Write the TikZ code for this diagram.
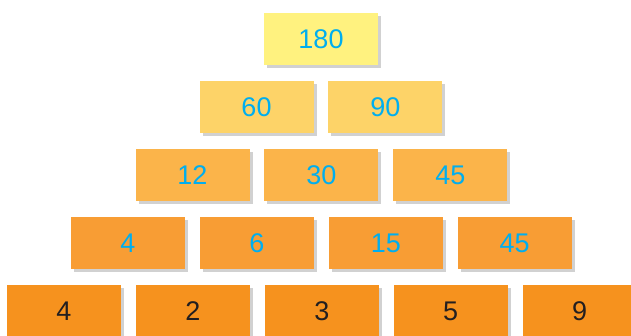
\documentclass[tikz,border=0pt]{standalone}
\usepackage{fontspec}
\setmainfont{Liberation Sans}
\usepackage{xcolor}
\usetikzlibrary{positioning,shadows}
\definecolor{rowA}{HTML}{FFF27F}
\definecolor{rowB}{HTML}{FDD368}
\definecolor{rowC}{HTML}{FBB44A}
\definecolor{rowD}{HTML}{F89D34}
\definecolor{rowE}{HTML}{F6921E}
\definecolor{numblue}{HTML}{00AEEF}
\definecolor{numdark}{HTML}{231F20}

\begin{document}
\begin{tikzpicture}[
        x=1pt, y=1pt,
        node distance=16pt and 14.5pt,
        cell/.style={minimum width=114pt, minimum height=52pt, inner sep=0pt,
            text height=19.5pt, text depth=0pt, text=numblue,
            font=\fontsize{27}{30}\selectfont,
            drop shadow={shadow xshift=3pt, shadow yshift=-3pt, fill=black, opacity=0.18}},
        lvlA/.style={cell, fill=rowA},
        lvlB/.style={cell, fill=rowB},
        lvlC/.style={cell, fill=rowC},
        lvlD/.style={cell, fill=rowD},
        lvlE/.style={cell, fill=rowE, text=numdark},
    ]
        \useasboundingbox (0,0) rectangle (631,335);

        % top
        \node[lvlA] (top) at (321,296) {180};

        % second row
        \node[lvlB] (b1) at (256.5,228) {60};
        \node[lvlB, right=of b1] (b2) {90};

        % third row
        \node[lvlC] (c1) at (192.5,160) {12};
        \node[lvlC, right=of c1] (c2) {30};
        \node[lvlC, right=of c2] (c3) {45};

        % fourth row
        \node[lvlD] (d1) at (128,92) {4};
        \node[lvlD, right=of d1] (d2) {6};
        \node[lvlD, right=of d2] (d3) {15};
        \node[lvlD, right=of d3] (d4) {45};

        % base row (prime factors)
        \node[lvlE] (e1) at (64,24) {4};
        \node[lvlE, right=of e1] (e2) {2};
        \node[lvlE, right=of e2] (e3) {3};
        \node[lvlE, right=of e3] (e4) {5};
        \node[lvlE, right=of e4] (e5) {9};
    \end{tikzpicture}
\end{document}
